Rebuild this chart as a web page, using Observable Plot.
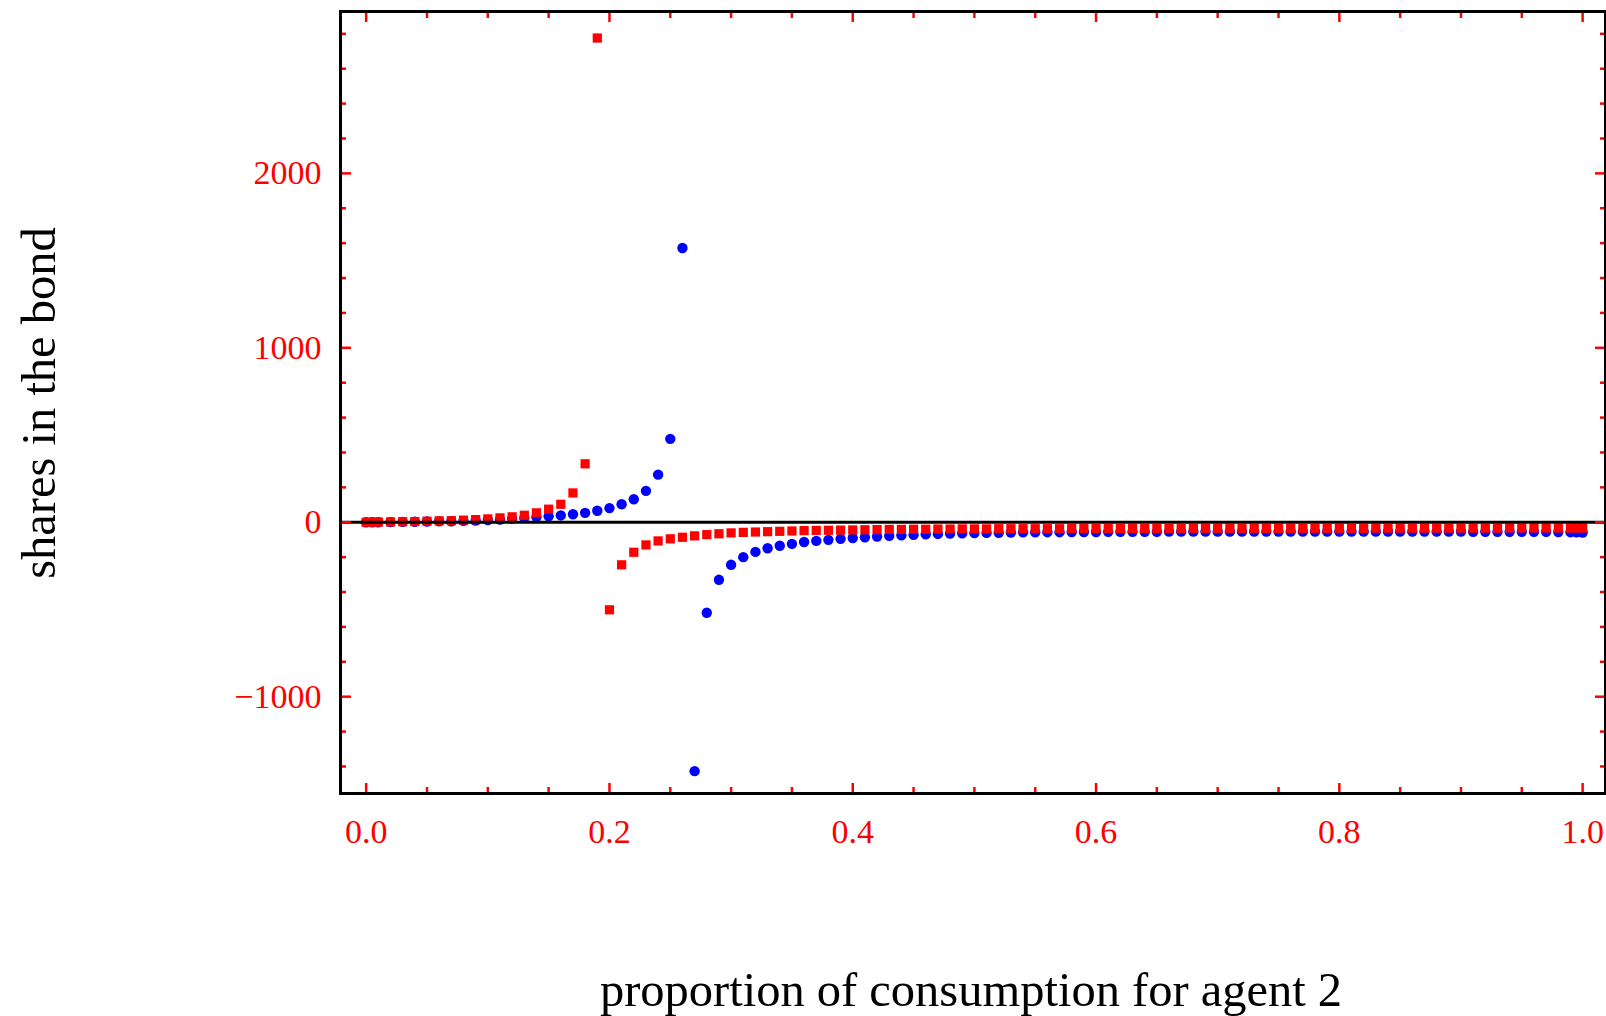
<!DOCTYPE html>
<html>
<head>
<meta charset="utf-8">
<script src="https://cdn.jsdelivr.net/npm/d3@7"></script>
<script src="https://cdn.jsdelivr.net/npm/@observablehq/plot@0.6"></script>
<style>
  html, body { margin: 0; padding: 0; background: white; }
  #wrap { position: relative; width: 1606px; height: 1016px; background: white; }
  .title { position: absolute; font-family: 'Liberation Serif', serif; font-size: 48.5px; color: black; white-space: nowrap; line-height: 1; }
</style>
</head>
<body>
<div id="wrap">
  <div id="chart"></div>
  <div class="title" id="ytitle" style="left:39px; top:403px; transform: translate(-50%,-50%) rotate(-90deg);">shares in the bond</div>
  <div class="title" id="xtitle" style="left:971px; top:990px; transform: translate(-50%,-50%);">proportion of consumption for agent 2</div>
</div>
<script>
const xs = [0, 0.005, 0.01, 0.02, 0.03, 0.04, 0.05, 0.06, 0.07, 0.08, 0.09,
  0.10, 0.11, 0.12, 0.13, 0.14, 0.15, 0.16, 0.17, 0.18, 0.19,
  0.20, 0.21, 0.22, 0.23, 0.24, 0.25, 0.26, 0.27, 0.28, 0.29,
  0.30, 0.31, 0.32, 0.33, 0.34, 0.35, 0.36, 0.37, 0.38, 0.39,
  0.40, 0.41, 0.42, 0.43, 0.44, 0.45, 0.46, 0.47, 0.48, 0.49,
  0.50, 0.51, 0.52, 0.53, 0.54, 0.55, 0.56, 0.57, 0.58, 0.59,
  0.60, 0.61, 0.62, 0.63, 0.64, 0.65, 0.66, 0.67, 0.68, 0.69,
  0.70, 0.71, 0.72, 0.73, 0.74, 0.75, 0.76, 0.77, 0.78, 0.79,
  0.80, 0.81, 0.82, 0.83, 0.84, 0.85, 0.86, 0.87, 0.88, 0.89,
  0.90, 0.91, 0.92, 0.93, 0.94, 0.95, 0.96, 0.97, 0.98, 0.99, 0.995, 1.0];

// red squares
const redShares = [0, 0, 1, 2, 3, 4, 6, 8, 9, 12, 15,
  19, 25, 31, 40, 54, 75, 103, 168, 335, 2776,
  -502, -244, -172, -130, -107, -95, -86, -78, -71, -66,
  -61, -58, -56, -54, -52, -50, -48, -47, -46, -45,
  -44, -43, -42, -41, -41, -40, -40, -39, -39, -38,
  -38, -38, -37, -37, -37, -37, -37, -37, -36, -36,
  -36, -36, -36, -36, -36, -36, -36, -36, -35, -35,
  -35, -35, -35, -35, -35, -35, -35, -35, -35, -35,
  -35, -35, -35, -34, -34, -34, -34, -34, -34, -34,
  -34, -34, -34, -34, -33, -33, -33, -33, -33, -33, -33, -33];

// blue circles
const blueShares = [0, 0, 0, 1, 2, 3, 4, 5, 6, 8, 10,
  13, 16, 20, 25, 30, 34, 39, 46, 54, 66,
  81, 103, 132, 180, 273, 478, 1572, -1427, -519, -330,
  -244, -200, -170, -149, -135, -124, -113, -107, -101, -95,
  -90, -86, -82, -78, -75, -72, -69, -67, -65, -63,
  -62, -61, -60, -59, -58, -58, -57, -57, -56, -56,
  -56, -55, -55, -55, -55, -55, -54, -54, -54, -54,
  -54, -54, -54, -54, -54, -54, -54, -54, -54, -54,
  -54, -54, -54, -54, -54, -54, -54, -54, -54, -54,
  -54, -55, -55, -55, -55, -55, -55, -55, -56, -57, -58, -59];

const xMajor = [0, 0.2, 0.4, 0.6, 0.8, 1.0];
const xMinor = [0.05, 0.1, 0.15, 0.25, 0.3, 0.35, 0.45, 0.5, 0.55, 0.65, 0.7, 0.75, 0.85, 0.9, 0.95];
const yMajor = [-1000, 0, 1000, 2000];
const yMinor = [-1400, -1200, -800, -600, -400, -200, 200, 400, 600, 800, 1200, 1400, 1600, 1800, 2200, 2400, 2600, 2800];

const red = xs.map((x, i) => ({x, y: redShares[i]}));
const blue = xs.map((x, i) => ({x, y: blueShares[i]}));

const tickColor = "#ff0000";
const fmtY = d3.format("d");
const fmtX = d3.format(".1f");
const font = "'Liberation Serif', serif";

const chart = Plot.plot({
  width: 1606,
  height: 900,
  marginLeft: 340,
  marginRight: 1,
  marginTop: 11,
  marginBottom: 107,
  style: {fontFamily: font, background: "white", overflow: "visible"},
  x: {domain: [-0.0211, 1.0188]},
  y: {domain: [-1555, 2928]},
  marks: [
    Plot.dot(blue, {x: "x", y: "y", r: 5.2, fill: "#0000ff", symbol: "circle"}),
    Plot.dot(red, {x: "x", y: "y", r: 5.2, fill: "#ff0000", symbol: "square"}),
    Plot.ruleY([0], {stroke: "black", strokeWidth: 3}),
    // inward ticks on all four sides
    Plot.axisX(xMajor, {anchor: "bottom", tickSize: -10, tickFormat: () => "", label: null, stroke: tickColor, strokeWidth: 2.5}),
    Plot.axisX(xMinor, {anchor: "bottom", tickSize: -6, tickFormat: () => "", label: null, stroke: tickColor, strokeWidth: 2.5}),
    Plot.axisX(xMajor, {anchor: "top", tickSize: -10, tickFormat: () => "", label: null, stroke: tickColor, strokeWidth: 2.5}),
    Plot.axisX(xMinor, {anchor: "top", tickSize: -6, tickFormat: () => "", label: null, stroke: tickColor, strokeWidth: 2.5}),
    Plot.axisY(yMajor, {anchor: "left", tickSize: -11, tickFormat: () => "", label: null, stroke: tickColor, strokeWidth: 2.5}),
    Plot.axisY(yMinor, {anchor: "left", tickSize: -6, tickFormat: () => "", label: null, stroke: tickColor, strokeWidth: 2.5}),
    Plot.axisY(yMajor, {anchor: "right", tickSize: -11, tickFormat: () => "", label: null, stroke: tickColor, strokeWidth: 2.5}),
    Plot.axisY(yMinor, {anchor: "right", tickSize: -6, tickFormat: () => "", label: null, stroke: tickColor, strokeWidth: 2.5}),
    // tick labels
    Plot.axisX(xMajor, {anchor: "bottom", tickSize: 0, tickPadding: 25, tickFormat: fmtX, label: null, fill: tickColor, fontSize: 34, fontFamily: font}),
    Plot.axisY(yMajor, {anchor: "left", tickSize: 0, tickPadding: 19, tickFormat: fmtY, label: null, fill: tickColor, fontSize: 34, fontFamily: font}),
    Plot.frame({stroke: "black", strokeWidth: 3})
  ]
});
document.getElementById("chart").appendChild(chart);
</script>
</body>
</html>
